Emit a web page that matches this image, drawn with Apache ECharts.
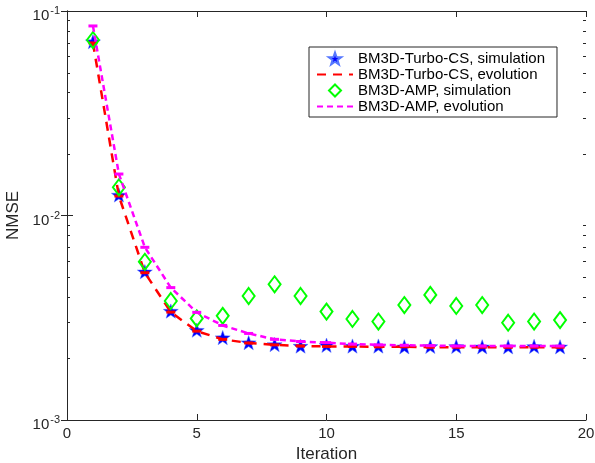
<!DOCTYPE html>
<html>
<head>
<meta charset="utf-8">
<script src="https://cdn.jsdelivr.net/npm/echarts@6/dist/echarts.min.js"></script>
<style>html,body{margin:0;padding:0;background:#fff;}#c{width:595px;height:463px;}</style>
</head>
<body>
<div id="c"></div>
<script>
const iterations = [1,2,3,4,5,6,7,8,9,10,11,12,13,14,15,16,17,18,19];
const turboSim = [0.0708,0.0126,0.00531,0.00341,0.00275,0.00253,0.00239,0.00234,0.0023,0.00232,0.0023,0.0023,0.00228,0.00229,0.00229,0.00228,0.00228,0.00229,0.00228];
const turboEvo = [0.0698,0.01245,0.00525,0.00337,0.00272,0.00248,0.00238,0.00233,0.0023,0.00229,0.00229,0.00228,0.00228,0.00227,0.00227,0.00227,0.00227,0.00227,0.00227];
const ampSim = [0.0721,0.01374,0.00594,0.00382,0.00314,0.00323,0.00404,0.00461,0.00404,0.00339,0.00312,0.00303,0.00365,0.00409,0.00361,0.00365,0.00299,0.00303,0.00308];
const ampEvo = [0.0845,0.01595,0.00699,0.00444,0.00336,0.0029,0.00265,0.00248,0.00242,0.00239,0.00235,0.00233,0.00232,0.00231,0.0023,0.0023,0.0023,0.0023,0.0023];
const seriesNames = ['BM3D-Turbo-CS, simulation','BM3D-Turbo-CS, evolution','BM3D-AMP, simulation','BM3D-AMP, evolution'];

const FONT = '"Liberation Sans", Arial, Helvetica, sans-serif';
const AX = '#262626';
const pair = (ys) => iterations.map((x,i) => [x, ys[i]]);
const minorVals = [];
[0.001, 0.01].forEach(d => { for (let m = 2; m <= 9; m++) minorVals.push([0, +(m*d).toPrecision(3)]); });
const STAR = 'path://M0,-10 L2.35,-3.24 L9.51,-3.09 L3.8,1.24 L5.88,8.09 L0,4 L-5.88,8.09 L-3.8,1.24 L-9.51,-3.09 L-2.35,-3.24 Z';
const DIAM = 'path://M0,-8 L5.5,0 L0,8 L-5.5,0 Z';
const DIAM_LEGEND = 'path://M0,-6 L6,0 L0,6 L-6,0 Z';

const chart = echarts.init(document.getElementById('c'), null, {renderer:'canvas'});
const yLabel = {
  show: true, margin: 7, color: AX, fontFamily: FONT, padding: [10, 0, 0, 0],
  formatter: v => '{b|10}{s|' + Math.round(Math.log10(v)) + '}',
  rich: {
    b: {fontSize: 15, lineHeight: 15, fontFamily: FONT, color: AX, verticalAlign: 'bottom'},
    s: {fontSize: 11, lineHeight: 11, fontFamily: FONT, color: AX, verticalAlign: 'bottom', padding: [0,0,7,1]}
  }
};
const hiddenIconStyle = {color: 'rgba(0,0,0,0)', borderColor: 'rgba(0,0,0,0)', borderWidth: 0};
chart.setOption({
  animation: false,
  backgroundColor: '#fff',
  grid: {left: 67, right: 9, top: 11, bottom: 43, containLabel: false, outerBoundsMode: 'none'},
  legend: {
    left: 309, top: 47, orient: 'vertical',
    padding: [4, 12, 3, 7], itemWidth: 36, itemHeight: 12, itemGap: 1,
    borderColor: AX, borderWidth: 1, backgroundColor: '#fff',
    textStyle: {fontSize: 15, lineHeight: 15, fontFamily: FONT, color: '#000'},
    data: [
      {name: seriesNames[0]},
      {name: seriesNames[1], itemStyle: hiddenIconStyle},
      {name: seriesNames[2], icon: DIAM_LEGEND},
      {name: seriesNames[3], itemStyle: hiddenIconStyle}
    ]
  },
  xAxis: [{
    type: 'value', min: 0, max: 20, interval: 5, position: 'bottom',
    name: 'Iteration', nameLocation: 'middle', nameGap: 19,
    nameTextStyle: {fontSize: 17, fontFamily: FONT, color: AX},
    axisLine: {show: true, lineStyle: {color: AX, width: 1}},
    axisTick: {show: true, inside: true, length: 6, lineStyle: {color: AX}},
    axisLabel: {fontSize: 15, fontFamily: FONT, color: AX, margin: 6},
    splitLine: {show: false}
  },{
    type: 'value', min: 0, max: 20, interval: 5, position: 'top',
    axisLine: {show: true, lineStyle: {color: AX, width: 1}},
    axisTick: {show: true, inside: true, length: 6, lineStyle: {color: AX}},
    axisLabel: {show: false}, splitLine: {show: false}
  }],
  yAxis: [{
    type: 'log', logBase: 10, min: 0.001, max: 0.1, position: 'left',
    name: 'NMSE', nameLocation: 'middle', nameGap: 39,
    nameTextStyle: {fontSize: 17, fontFamily: FONT, color: AX},
    axisLine: {show: true, lineStyle: {color: AX, width: 1}},
    axisTick: {show: true, inside: true, length: 6, lineStyle: {color: AX}},
    axisLabel: yLabel, splitLine: {show: false}
  },{
    type: 'log', logBase: 10, min: 0.001, max: 0.1, position: 'right',
    axisLine: {show: true, lineStyle: {color: AX, width: 1}},
    axisTick: {show: true, inside: true, length: 6, lineStyle: {color: AX}},
    axisLabel: {show: false}, splitLine: {show: false}
  }],
  series: [
    {
      type: 'custom', name: 'minorTicks', silent: true, z: 1,
      encode: {x: 0, y: 1},
      renderItem: (params, api) => {
        const v = api.value(1);
        const l = api.coord([0, v]);
        const r = api.coord([20, v]);
        const st = {stroke: AX, lineWidth: 1};
        return {type: 'group', children: [
          {type: 'line', shape: {x1: l[0], y1: Math.round(l[1])+0.5, x2: l[0]+3, y2: Math.round(l[1])+0.5}, style: st},
          {type: 'line', shape: {x1: r[0]-3, y1: Math.round(r[1])+0.5, x2: r[0], y2: Math.round(r[1])+0.5}, style: st}
        ]};
      },
      data: minorVals
    },
    {
      type: 'scatter', name: seriesNames[0], z: 2,
      symbol: STAR, symbolSize: 15, symbolKeepAspect: true,
      itemStyle: {color: '#0000ff', borderColor: '#5577ff', borderWidth: 0.5, opacity: 1},
      data: pair(turboSim)
    },
    {
      type: 'line', name: seriesNames[1], z: 3, symbol: 'none',
      lineStyle: {color: '#ff0000', width: 2.5, type: [9, 7]},
      itemStyle: {color: '#ff0000'},
      data: pair(turboEvo)
    },
    {
      type: 'scatter', name: 'turboEvoMarks', z: 3, silent: true,
      symbol: 'rect', symbolSize: [9, 3],
      itemStyle: {color: '#ff0000', opacity: 1},
      data: pair(turboEvo)
    },
    {
      type: 'scatter', name: seriesNames[2], z: 4,
      symbol: DIAM, symbolSize: [12, 16],
      itemStyle: {color: 'rgba(0,0,0,0)', borderColor: '#00ff00', borderWidth: 2, opacity: 1},
      data: pair(ampSim)
    },
    {
      type: 'line', name: seriesNames[3], z: 5, symbol: 'none',
      lineStyle: {color: '#ff00ff', width: 2.5, type: [6, 4]},
      itemStyle: {color: '#ff00ff'},
      data: pair(ampEvo)
    },
    {
      type: 'scatter', name: 'ampEvoMarks', z: 5, silent: true,
      symbol: 'rect', symbolSize: [9, 3],
      itemStyle: {color: '#ff00ff', opacity: 1},
      data: pair(ampEvo)
    }
  ]
});
</script>
</body>
</html>
